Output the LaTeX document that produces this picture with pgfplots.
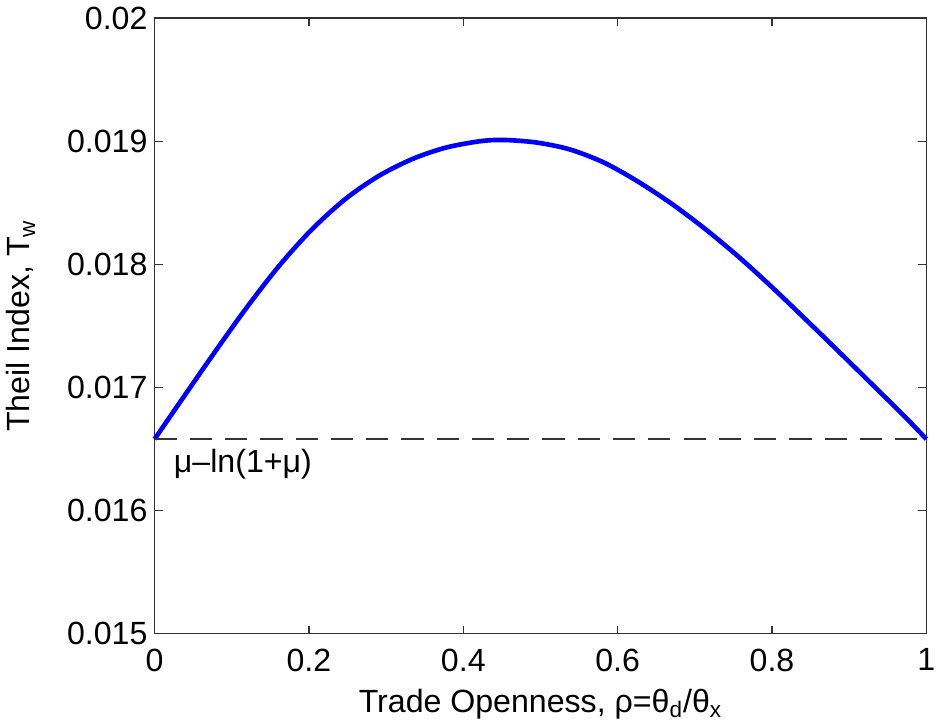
\documentclass[border=0pt]{standalone}
\usepackage{pgfplots}
\pgfplotsset{compat=1.18}
\usepackage{fontspec}
\setmainfont{Liberation Sans}

\begin{document}
\begin{tikzpicture}
\begin{axis}[
  scale only axis,
  width=383bp, height=305.5bp,
  xmin=0, xmax=1, ymin=0.015, ymax=0.02,
  scaled y ticks=false,
  xtick={0,0.2,0.4,0.6,0.8,1},
  ytick={0.015,0.016,0.017,0.018,0.019,0.02},
  yticklabels={0.015,0.016,0.017,0.018,0.019,0.02},
  xticklabels={0,0.2,0.4,0.6,0.8,1},
  tick align=inside,
  major tick length=4bp,
  tick style={black!80, line width=0.6pt},
  axis line style={black!80, line width=0.6pt},
  ticklabel style={font=\fontsize{16}{19}\selectfont},
  xticklabel style={yshift=-4bp},
  label style={font=\fontsize{16}{19}\selectfont},
  xlabel={Trade Openness, ρ=θ\textsubscript{d}/θ\textsubscript{x}},
  ylabel={Theil Index, T\textsubscript{w}},
  xlabel style={yshift=-2bp},
  ylabel style={yshift=9bp},
  clip=false,
]
% values (x, T_w)
\addplot[blue, line width=2.3bp, smooth, tension=0.5] coordinates {
  (0,0.016580) (0.029,0.016844) (0.073,0.017242) (0.116,0.017620)
  (0.160,0.017977) (0.203,0.018278) (0.247,0.018529) (0.290,0.018716)
  (0.334,0.018855) (0.377,0.018947) (0.421,0.018999) (0.452,0.019010)
  (0.495,0.018989) (0.538,0.018933) (0.582,0.018827) (0.625,0.018677)
  (0.669,0.018496) (0.712,0.018294) (0.756,0.018065) (0.799,0.017820)
  (0.843,0.017556) (0.886,0.017294) (0.930,0.017023) (0.973,0.016757)
  (1,0.016580)
};
\addplot[black!80, line width=1bp, dash pattern=on 11bp off 6.5bp] coordinates {(0,0.01658) (1,0.01658)};
\node[anchor=north west, font=\fontsize{16}{19}\selectfont, inner sep=1bp]
  at (axis cs:0.022,0.01652) {μ–ln(1+μ)};
\end{axis}
\end{tikzpicture}
\end{document}
